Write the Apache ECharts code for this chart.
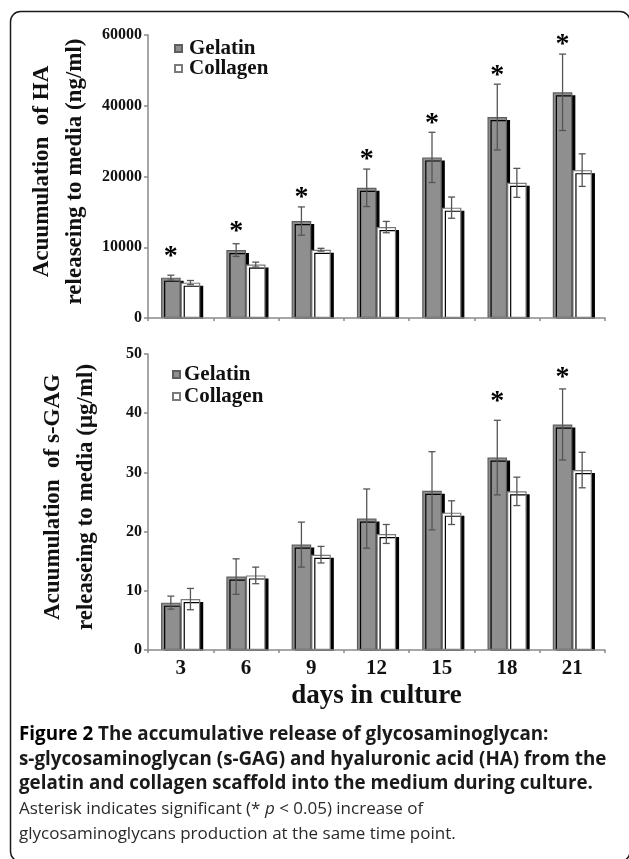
<!DOCTYPE html>
<html>
<head>
<meta charset="utf-8">
<script src="https://cdn.jsdelivr.net/npm/echarts@6/dist/echarts.min.js"></script>
<style>
html,body{margin:0;padding:0;background:#fff;}
#chart{width:629px;height:859px;}
</style>
</head>
<body>
<div id="chart"></div>
<script>
// ---------- data ----------
const days = ['3', '6', '9', '12', '15', '18', '21'];
const seriesNames = ['Gelatin', 'Collagen'];

// HA (ng/ml) – axis drawn with equally spaced ticks, labelled as in the source
const haTickLabels = ['0', '10000', '20000', '40000', '60000'];
const haGelatin = [5700, 9600, 13700, 18400, 22700, 28400, 31900];
const haGelatinErr = [350, 900, 2000, 2650, 3550, 4650, 5400];
const haCollagen = [5000, 7550, 9650, 12850, 15600, 19100, 20900];
const haCollagenErr = [300, 350, 200, 800, 1500, 2050, 2300];
// level (axis units) at which each significance asterisk is printed; null = none
const haStarLevel = [9430, 12870, 17640, 23010, 28110, 34940, 39280];

// s-GAG (µg/ml)
const gagTickLabels = ['0', '10', '20', '30', '40', '50'];
const gagGelatin = [8.0, 12.4, 17.8, 22.2, 26.9, 32.5, 38.1];
const gagGelatinErr = [1.1, 3.0, 3.8, 5.0, 6.6, 6.3, 6.0];
const gagCollagen = [8.6, 12.6, 16.1, 19.6, 23.2, 26.8, 30.4];
const gagCollagenErr = [1.8, 1.4, 1.4, 1.6, 2.0, 2.4, 3.0];
const gagStarLevel = [null, null, null, null, null, 42.8, 46.8];

const captionBold = [
  'The accumulative release of glycosaminoglycan:',
  's-glycosaminoglycan (s-GAG) and hyaluronic acid (HA) from the',
  'gelatin and collagen scaffold into the medium during culture.'
];

// ---------- styles ----------
const SERIF = '"Liberation Serif", "Times New Roman", serif';
const SANS = '"Open Sans", "Noto Sans", sans-serif';
const GEL_FILL = '#8f8f8f', GEL_BORDER = '#5e5e5e';
const COL_FILL = '#ffffff', COL_BORDER = '#7a7a7a';
const ERR_COLOR = '#555';
const BAR_W = 0.30;

const GRID_LEFT = 148, GRID_RIGHT = 24;
const GRID_TOP = [35, 354], GRID_H = [283, 296];

function errData(mean, err) { return mean.map((m, i) => [i, m, err[i]]); }
function starData(level) {
  const out = [];
  level.forEach((v, i) => { if (v !== null) out.push([i, v]); });
  return out;
}

function errSeries(idx, mean, err, side) {
  return {
    type: 'custom', xAxisIndex: idx, yAxisIndex: idx, z: 5, silent: true,
    clip: false,
    data: errData(mean, err),
    renderItem: function (params, api) {
      const i = api.value(0), m = api.value(1), e = api.value(2);
      const catW = api.size([1, 0])[0];
      const xc = api.coord([i, m])[0] + side * BAR_W / 2 * catW;
      const yt = api.coord([i, m + e])[1];
      const yb = api.coord([i, m - e])[1];
      const cap = 3.5;
      const st = { stroke: ERR_COLOR, lineWidth: 1.3 };
      return {
        type: 'group',
        children: [
          { type: 'line', shape: { x1: xc, y1: yt, x2: xc, y2: yb }, style: st },
          { type: 'line', shape: { x1: xc - cap, y1: yt, x2: xc + cap, y2: yt }, style: st },
          { type: 'line', shape: { x1: xc - cap, y1: yb, x2: xc + cap, y2: yb }, style: st }
        ]
      };
    }
  };
}

function starSeries(idx, level) {
  return {
    type: 'custom', xAxisIndex: idx, yAxisIndex: idx, z: 6, silent: true,
    clip: false,
    data: starData(level),
    renderItem: function (params, api) {
      const i = api.value(0), lv = api.value(1);
      const catW = api.size([1, 0])[0];
      const p = api.coord([i, lv]);
      const xc = p[0] - BAR_W / 2 * catW;
      return {
        type: 'text',
        style: {
          x: xc, y: p[1] + 5, text: '*',
          font: 'bold 28px ' + SERIF, fill: '#000',
          textAlign: 'center', textVerticalAlign: 'middle'
        }
      };
    }
  };
}

function barSeries(idx, name, data, fill, border) {
  return {
    type: 'bar', name: name, xAxisIndex: idx, yAxisIndex: idx,
    data: data, barWidth: (BAR_W * 100) + '%', barGap: '0%',
    itemStyle: {
      color: fill, borderColor: border, borderWidth: 1.2,
      shadowColor: '#000', shadowBlur: 0, shadowOffsetX: 3, shadowOffsetY: 3
    },
    emphasis: { disabled: true }
  };
}

const axisLineStyle = { color: '#8a8a8a', width: 1.5 };

function xAxisCfg(idx, showLabels) {
  return {
    type: 'category', gridIndex: idx, data: days, z: 8,
    axisLine: { lineStyle: axisLineStyle },
    axisTick: { show: true, length: 3, lineStyle: axisLineStyle },
    axisLabel: {
      show: showLabels, fontFamily: SERIF, fontWeight: 'bold', fontSize: 21,
      color: '#111', margin: 8
    },
    name: showLabels ? 'days in culture' : '',
    nameLocation: 'middle', nameGap: 33,
    nameTextStyle: { fontFamily: SERIF, fontWeight: 'bold', fontSize: 27, color: '#111' }
  };
}

function yAxisCfg(idx, max, interval, labels, name) {
  return {
    type: 'value', gridIndex: idx, min: 0, max: max, interval: interval, z: 8,
    splitLine: { show: false },
    axisLine: { show: true, lineStyle: axisLineStyle },
    axisTick: { show: true, length: 4, lineStyle: axisLineStyle },
    axisLabel: {
      fontFamily: SERIF, fontWeight: 'bold', fontSize: 16, color: '#111', margin: 6,
      formatter: function (v) { return labels[Math.round(v / interval)]; }
    },
    name: name, nameLocation: 'middle', nameRotate: 90, nameGap: 45,
    nameTextStyle: {
      fontFamily: SERIF, fontWeight: 'bold', fontSize: 23, color: '#111',
      lineHeight: 33, align: 'center', padding: [0, 0, 0, 10]
    }
  };
}

function legendCfg(top, left, gap, textPad) {
  return {
    orient: 'vertical', left: left, top: top, itemGap: gap,
    itemWidth: 7, itemHeight: 7, icon: 'rect',
    data: seriesNames,
    selectedMode: false,
    itemStyle: { shadowBlur: 0, shadowOffsetX: 0, shadowOffsetY: 0, shadowColor: 'transparent' },
    textStyle: { fontFamily: SERIF, fontWeight: 'bold', fontSize: 21, color: '#111', padding: [0, 0, 0, textPad] }
  };
}

// white masks that hide the drop shadow spilling under the x axes
function shadowMask(idx) {
  return {
    type: 'rect', silent: true, z: 3,
    shape: { x: GRID_LEFT + 1, y: GRID_TOP[idx] + GRID_H[idx] + 0.8, width: 629 - GRID_LEFT - GRID_RIGHT + 8, height: 4 },
    style: { fill: '#fff' }
  };
}

const chart = echarts.init(document.getElementById('chart'), null, { renderer: 'canvas' });

const option = {
  backgroundColor: '#fff',
  animation: false,
  grid: [
    { left: GRID_LEFT, right: GRID_RIGHT, top: GRID_TOP[0], height: GRID_H[0] },
    { left: GRID_LEFT, right: GRID_RIGHT, top: GRID_TOP[1], height: GRID_H[1] }
  ],
  legend: [legendCfg(33, 169, -1, 2), legendCfg(359, 167, 1, -1)],
  xAxis: [xAxisCfg(0, false), xAxisCfg(1, true)],
  yAxis: [
    yAxisCfg(0, 40000, 10000, haTickLabels, 'Acuumulation  of HA\nreleaseing to media (ng/ml)'),
    yAxisCfg(1, 50, 10, gagTickLabels, 'Acuumulation  of s-GAG\nreleaseing to media (\u03bcg/ml)')
  ],
  series: [
    barSeries(0, 'Gelatin', haGelatin, GEL_FILL, GEL_BORDER),
    barSeries(0, 'Collagen', haCollagen, COL_FILL, COL_BORDER),
    errSeries(0, haGelatin, haGelatinErr, -1),
    errSeries(0, haCollagen, haCollagenErr, 1),
    starSeries(0, haStarLevel),
    barSeries(1, 'Gelatin', gagGelatin, GEL_FILL, GEL_BORDER),
    barSeries(1, 'Collagen', gagCollagen, COL_FILL, COL_BORDER),
    errSeries(1, gagGelatin, gagGelatinErr, -1),
    errSeries(1, gagCollagen, gagCollagenErr, 1),
    starSeries(1, gagStarLevel)
  ],
  graphic: [
    shadowMask(0),
    shadowMask(1),
    {
      type: 'rect', silent: true, z: 10,
      shape: { x: 10.5, y: 11.5, width: 619.5, height: 850, r: 10 },
      style: { fill: 'none', stroke: '#1a1a1a', lineWidth: 1.5 }
    },
    {
      type: 'text', left: 19, top: 722, z: 10,
      style: {
        text: '{b|Figure 2} ' + captionBold[0] + '\n' + captionBold[1] + '\n' + captionBold[2],
        font: 'bold 18.8px ' + SANS, fill: '#1a1a1a', lineHeight: 24.8,
        rich: { b: { font: 'bold 18.8px ' + SANS, fill: '#000' } }
      }
    },
    {
      type: 'text', left: 19, top: 797, z: 10,
      style: {
        text: 'Asterisk indicates significant (* {i|p} < 0.05) increase of\nglycosaminoglycans production at the same time point.',
        font: '17px ' + SANS, fill: '#2a2a2a', lineHeight: 24.8,
        rich: { i: { font: 'italic 17px ' + SANS, fill: '#2a2a2a' } }
      }
    }
  ]
};
chart.setOption(option);
</script>
</body>
</html>
